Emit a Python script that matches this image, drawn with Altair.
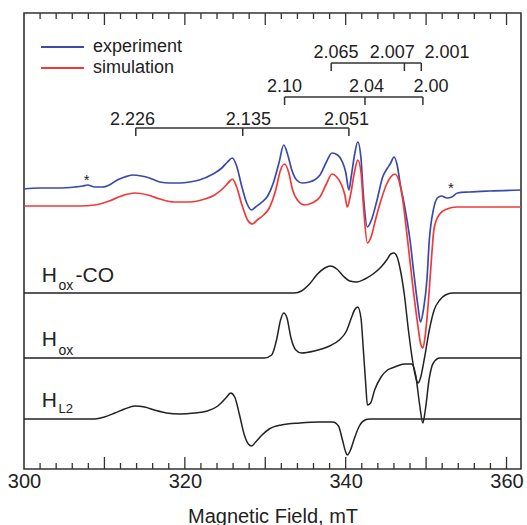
import altair as alt
import pandas as pd

FONT = "Liberation Sans, Arial, Helvetica, sans-serif"

# ---- magnetic field axis (mT) ----
FIELD_MIN, FIELD_MAX = 300.0, 361.8
PLOT_W, PLOT_H = 497, 456

# ---- spectra: field (mT) and first-derivative signal (arb. units, baseline = 0) ----
exp_field = [300.0, 301.9, 304.4, 306.3, 307.3, 307.9, 308.8, 309.8, 310.6, 311.6,
             312.5, 313.5, 314.6, 315.6, 316.9, 318.1, 319.4, 320.6, 321.8, 323.5,
             324.6, 325.3, 325.9, 326.4, 327.1, 327.7, 328.3, 328.8, 329.6, 330.3,
             331.0, 331.7, 332.3, 332.8, 333.3, 333.9, 334.6, 335.5, 336.8, 337.6,
             338.3, 339.0, 339.6, 340.0, 340.4, 340.7, 341.1, 341.5, 341.9, 342.2,
             342.7, 343.2, 343.9, 344.6, 345.2, 345.6, 346.0, 346.4, 346.8, 347.3,
             348.0, 348.5, 349.0, 349.3, 349.7, 350.1, 350.4, 350.9, 351.4, 351.9,
             352.6, 353.2, 353.9, 355.4, 357.9, 361.8]
exp_signal = [-1, 0, 0, 1, 2, 3, 1, 1, 3, 8,
              11, 13, 12, 10, 6, 5, 5, 6, 8, 14,
              20, 26, 30, 23, 1, -15, -22, -19, -14, -8,
              5, 25, 43, 33, 18, 8, 5, 6, 13, 26,
              35, 33, 26, 16, -2, 12, 33, 46, 30, -7,
              -39, -32, -12, 11, 20, 25, 31, 23, 3, -17,
              -52, -87, -119, -134, -120, -92, -52, -22, -10, -8,
              -10, -9, -5, -4, -3, -2]

sim_field = [300.0, 306.9, 308.8, 310.6, 312.1, 313.8, 315.4, 316.9, 318.7, 320.6,
             322.5, 323.7, 324.8, 325.6, 325.9, 326.4, 327.1, 327.8, 328.4, 329.0,
             329.8, 330.5, 331.3, 331.9, 332.4, 332.9, 333.4, 334.0, 334.9, 335.8,
             336.8, 337.6, 338.3, 338.9, 339.5, 339.9, 340.2, 340.6, 341.1, 341.5,
             341.9, 342.2, 342.7, 343.2, 343.7, 344.4, 345.1, 345.6, 346.1, 346.6,
             347.1, 347.6, 348.3, 349.0, 349.3, 349.6, 349.9, 350.3, 350.7, 351.0,
             351.7, 352.6, 353.8, 361.8]
sim_signal = [0, 0, 1, 5, 10, 13, 11, 7, 4, 4,
              7, 11, 18, 25, 27, 20, 1, -14, -18, -14,
              -9, -2, 16, 36, 42, 34, 16, 6, 1, 3,
              9, 22, 32, 29, 21, 11, -1, 11, 34, 46,
              34, 1, -37, -30, -14, 6, 22, 29, 32, 26,
              6, -27, -77, -121, -137, -142, -129, -94, -49, -22,
              -8, -3, -1, -1]

hoxco_field = [300.0, 333.6, 334.5, 335.5, 336.5, 337.4, 338.1, 338.9, 339.7, 340.5,
               341.4, 342.4, 343.4, 344.4, 345.1, 345.6, 346.0, 346.4, 346.8, 347.3,
               347.8, 348.3, 348.7, 349.0, 349.3, 349.8, 350.4, 351.0, 351.7, 352.4,
               353.3, 361.8]
hoxco_signal = [0, 0, 2, 9, 19, 25, 27, 24, 17, 12,
                11, 14, 19, 26, 33, 39, 40, 36, 23, -2,
                -37, -67, -84, -90, -85, -65, -37, -17, -7, -2,
                0, 0]

hox_field = [300.0, 329.9, 330.8, 331.4, 331.9, 332.3, 332.7, 333.2, 333.8, 334.5,
             336.1, 338.0, 339.2, 340.1, 340.7, 341.1, 341.5, 341.9, 342.2, 342.5,
             342.7, 343.1, 343.6, 344.4, 345.2, 346.1, 347.3, 348.2, 348.7, 349.2,
             349.6, 349.9, 350.4, 350.9, 351.7, 361.8]
hox_signal = [0, 0, 3, 18, 38, 45, 40, 20, 8, 5,
              7, 12, 18, 27, 40, 48, 51, 40, 8, -27,
              -47, -45, -32, -19, -12, -9, -6, -6, -17, -47,
              -65, -52, -20, -5, 0, 0]

hl2_field = [300.0, 308.8, 310.0, 311.3, 312.5, 313.8, 315.0, 316.2, 317.7, 319.4,
             321.2, 322.8, 324.1, 325.1, 325.7, 326.2, 326.8, 327.4, 327.9, 328.3,
             328.8, 329.6, 330.5, 332.0, 334.3, 336.8, 338.4, 339.1, 339.6, 340.0,
             340.2, 340.6, 341.1, 341.7, 342.4, 343.0, 361.8]
hl2_signal = [0, 0, 2, 6, 10, 13, 12, 9, 6, 5,
              6, 8, 13, 21, 26, 22, 4, -16, -25, -27,
              -23, -16, -10, -6, -4, -3, -3, -7, -21, -33,
              -36, -31, -19, -7, -1, 0, 0]

# vertical stacking of the traces
trace_names = ["experiment", "simulation", "Hox-CO", "Hox", "HL2"]
trace_offsets = [281, 263, 176, 111, 50]
trace_data = [(exp_field, exp_signal), (sim_field, sim_signal),
              (hoxco_field, hoxco_signal), (hox_field, hox_signal),
              (hl2_field, hl2_signal)]

rows = []
for name, off, (fs, ss) in zip(trace_names, trace_offsets, trace_data):
    for i, (f, s) in enumerate(zip(fs, ss)):
        rows.append({"trace": name, "field": f, "y": off + s, "i": i})
spectra = pd.DataFrame(rows)
colored = spectra[spectra.trace.isin(["experiment", "simulation"])]
components = spectra[~spectra.trace.isin(["experiment", "simulation"])]

# ---- g-value stick diagrams ----
bracket_level = [341, 372, 406]            # HL2, Hox, Hox-CO
bracket_fields = [[313.9, 327.2, 340.4],
                  [332.4, 342.4, 349.6],
                  [338.2, 347.3, 349.4]]
g_labels = [["2.226", "2.135", "2.051"],
            ["2.10", "2.04", "2.00"],
            ["2.065", "2.007", "2.001"]]
g_label_fields = [[313.5, 327.9, 340.1],
                  [332.4, 342.6, 350.6],
                  [338.8, 345.8, 352.6]]
g_label_level = [349.5, 382.5, 416.5]
STICK = 8

bar_rows, stick_rows, glab_rows = [], [], []
for lvl, fs, labs, lfs, ll in zip(bracket_level, bracket_fields, g_labels,
                                  g_label_fields, g_label_level):
    bar_rows.append({"field": fs[0], "field2": fs[-1], "y": lvl})
    for f in fs:
        stick_rows.append({"field": f, "y": lvl, "y2": lvl - STICK})
    for t, f in zip(labs, lfs):
        glab_rows.append({"field": f, "y": ll, "text": t})
bars = pd.DataFrame(bar_rows)
sticks = pd.DataFrame(stick_rows)
glabels = pd.DataFrame(glab_rows)

# ---- trace names with subscripts ----
name_rows = [
    {"field": 302.2, "y": 187, "text": "H", "size": 21},
    {"field": 304.3, "y": 179, "text": "ox", "size": 14},
    {"field": 306.4, "y": 187, "text": "-CO", "size": 21},
    {"field": 302.2, "y": 123, "text": "H", "size": 21},
    {"field": 304.3, "y": 114, "text": "ox", "size": 14},
    {"field": 302.2, "y": 62, "text": "H", "size": 21},
    {"field": 304.3, "y": 56, "text": "L2", "size": 13},
]
names = pd.DataFrame(name_rows)

# impurity markers
stars = pd.DataFrame({"field": [307.8, 353.1], "y": [284, 276], "text": ["*", "*"]})

# ---- inward axis ticks on bottom and top ----
tick_rows = []
for f in range(302, 362, 2):
    ln = 12 if f % 10 == 0 else 6
    tick_rows.append({"field": f, "y": 0, "y2": ln})
    tick_rows.append({"field": f, "y": PLOT_H, "y2": PLOT_H - ln})
ticks = pd.DataFrame(tick_rows)

xs = alt.Scale(domain=[FIELD_MIN, FIELD_MAX], nice=False, zero=False)
ys = alt.Scale(domain=[0, PLOT_H], nice=False, zero=False)
XTITLE = "Magnetic Field, mT"

main_axis = alt.Axis(values=[300, 320, 340, 360], ticks=False, domain=False,
                     grid=False, labelFontSize=20, labelFont=FONT,
                     labelColor="#222", labelPadding=2, labelFlush=False,
                     titleFontSize=20, titleFont=FONT, titleFontWeight="normal",
                     titleColor="#222", titlePadding=15)

xenc = alt.X("field:Q", scale=xs, axis=main_axis, title=XTITLE)
yenc = alt.Y("y:Q", scale=ys, axis=None)

lines_col = alt.Chart(colored).mark_line(strokeWidth=1.7, interpolate="monotone").encode(
    x=xenc,
    y=yenc,
    color=alt.Color("trace:N",
                    scale=alt.Scale(domain=["experiment", "simulation"],
                                    range=["#3a4aa8", "#f03a3a"]),
                    legend=alt.Legend(title=None, orient="none", legendX=16, legendY=25,
                                      symbolType="stroke", symbolSize=1850,
                                      symbolStrokeWidth=1.8, labelFontSize=18,
                                      labelFont=FONT, labelColor="#222",
                                      labelOffset=8, clipHeight=18, rowPadding=3,
                                      padding=0)),
    order="i:Q",
)

lines_bk = alt.Chart(components).mark_line(strokeWidth=1.5, color="#222",
                                            interpolate="monotone").encode(
    x=xenc, y=yenc, detail="trace:N", order="i:Q")

bar_layer = alt.Chart(bars).mark_rule(color="#333", strokeWidth=1.5).encode(
    x=xenc, x2="field2:Q", y=yenc)
stick_layer = alt.Chart(sticks).mark_rule(color="#333", strokeWidth=1.5).encode(
    x=xenc, y=yenc, y2="y2:Q")
glab_layer = alt.Chart(glabels).mark_text(font=FONT, fontSize=18, color="#222",
                                          align="center", baseline="middle").encode(
    x=xenc, y=yenc, text="text:N")
name_layer = alt.Chart(names).mark_text(font=FONT, color="#222", align="left",
                                        baseline="alphabetic").encode(
    x=xenc, y=yenc, text="text:N", size=alt.Size("size:Q", scale=None))
star_layer = alt.Chart(stars).mark_text(font=FONT, fontSize=15, color="#222",
                                        align="center", baseline="alphabetic").encode(
    x=xenc, y=yenc, text="text:N")
tick_layer = alt.Chart(ticks).mark_rule(color="#333", strokeWidth=1.3).encode(
    x=xenc, y=yenc, y2="y2:Q")

chart = alt.layer(
    tick_layer, lines_bk, lines_col, bar_layer, stick_layer, glab_layer,
    name_layer, star_layer,
).properties(
    width=PLOT_W, height=PLOT_H,
    autosize=alt.AutoSizeParams(type="none"),
    padding={"left": 24, "top": 13, "right": 6, "bottom": 56},
    background="white",
).configure_view(
    stroke="#333", strokeWidth=1.6,
)

chart.save("out.html", embed_options={"renderer": "svg", "actions": False})
